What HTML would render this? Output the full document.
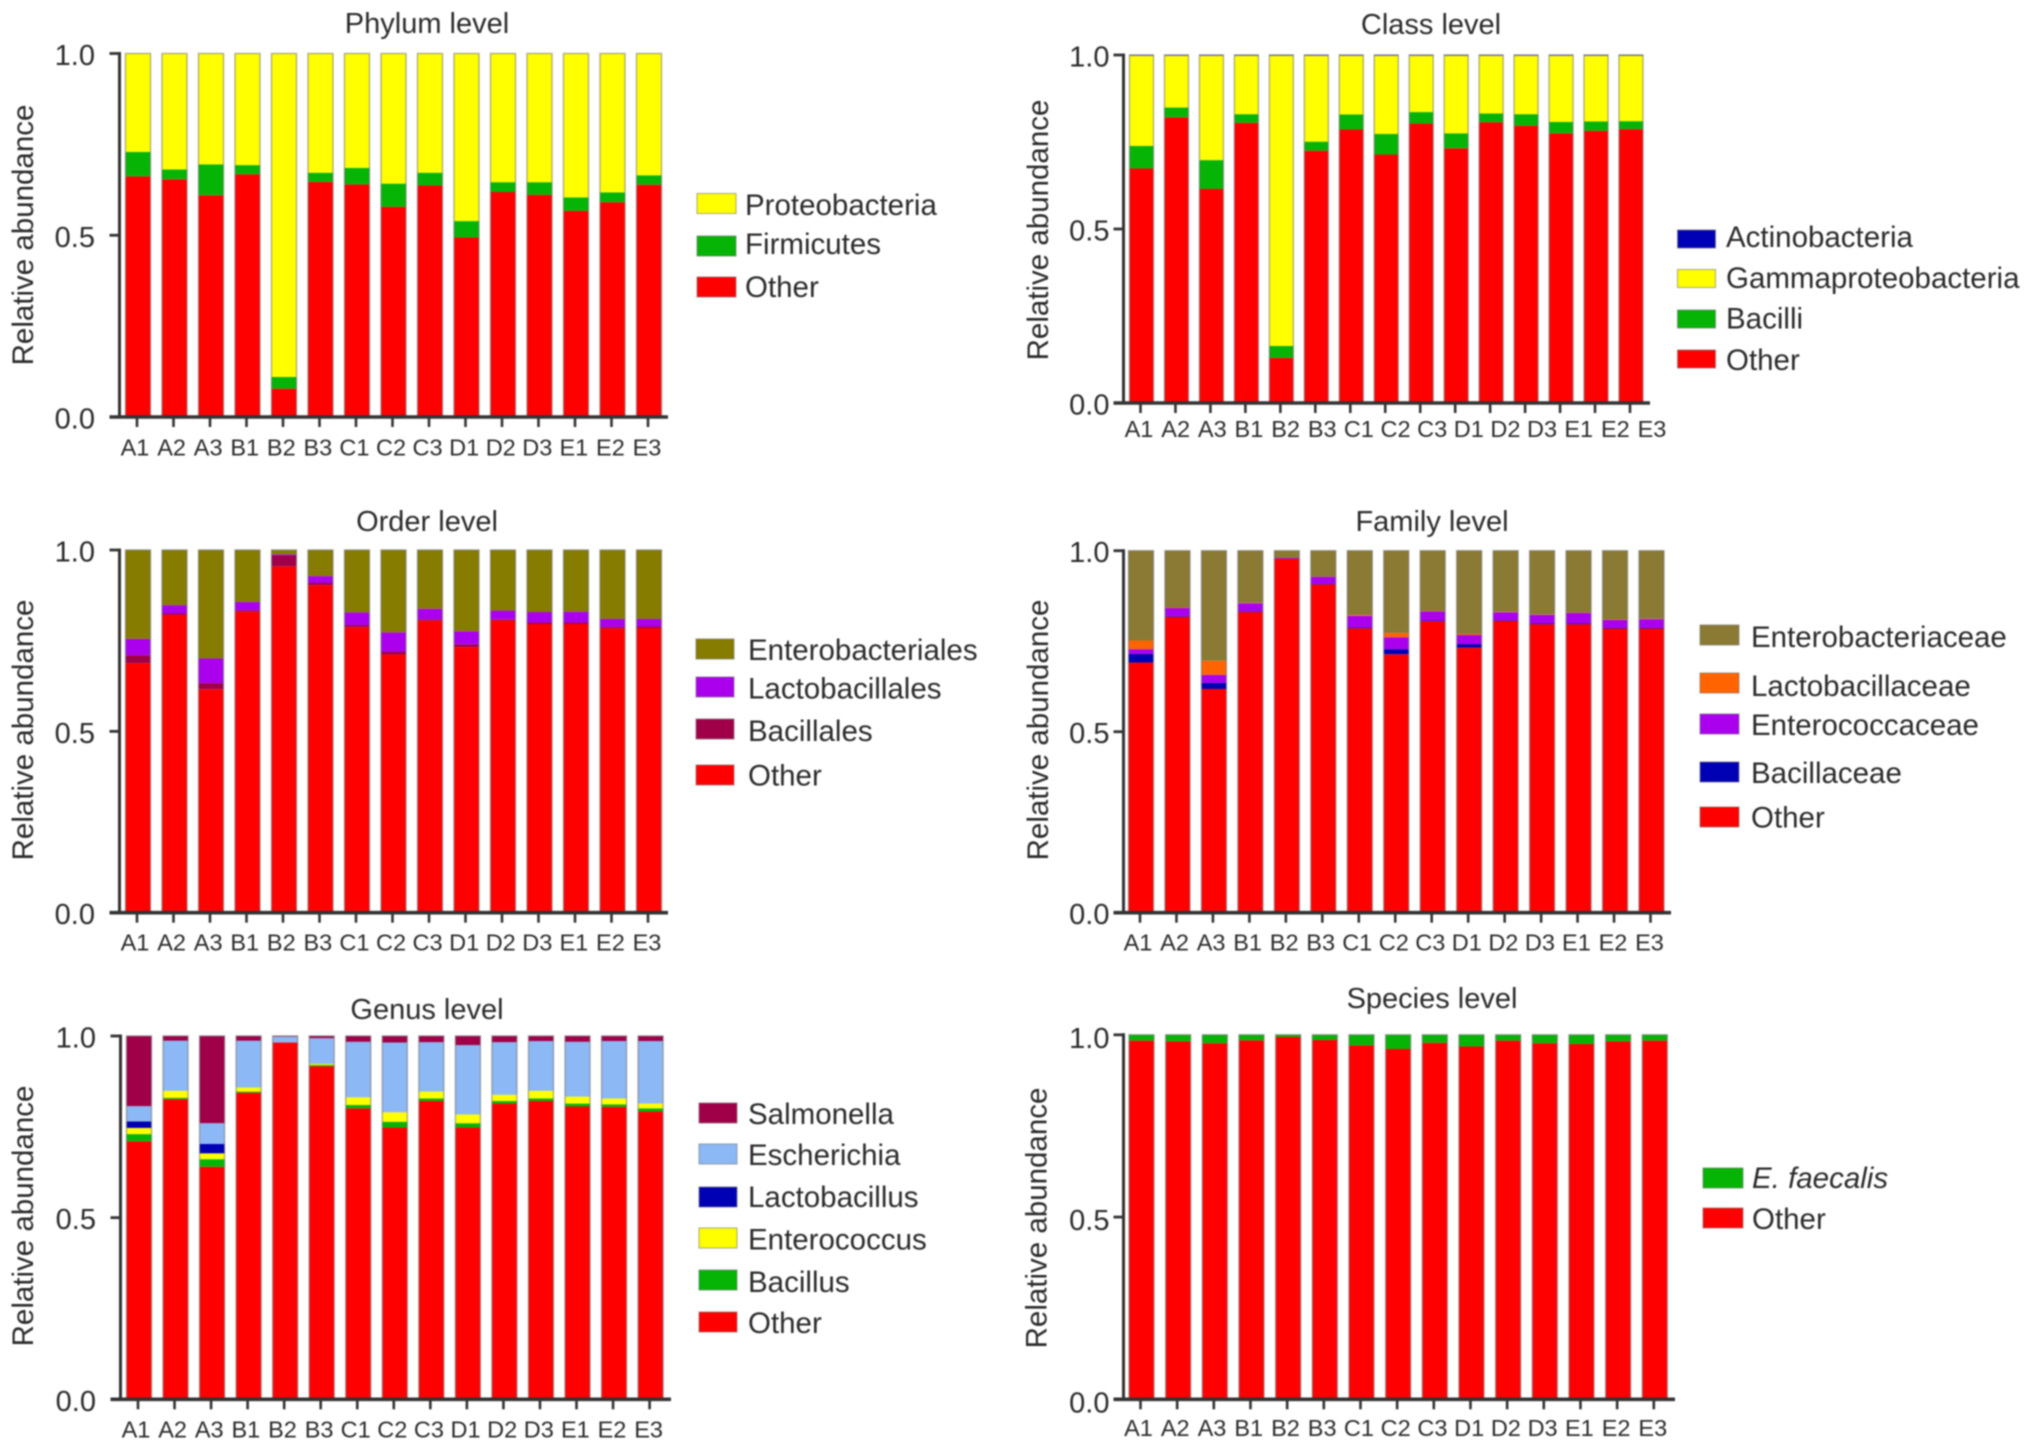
<!DOCTYPE html>
<html lang="en">
<head>
<meta charset="utf-8">
<title>Relative abundance by taxonomic level</title>
<style>
html,body{margin:0;padding:0;background:#fff;}
body{width:2032px;height:1451px;overflow:hidden;}
svg{display:block;filter:blur(0.75px);}
text{font-family:"Liberation Sans",sans-serif;fill:#2b2b2b;}
</style>
</head>
<body>
<svg id="figure" xmlns="http://www.w3.org/2000/svg" width="2032" height="1451" viewBox="0 0 2032 1451"></svg>
<script>
const categories = ['A1','A2','A3','B1','B2','B3','C1','C2','C3','D1','D2','D3','E1','E2','E3'];
const yTickValues = [0, 0.5, 1];
const yTickLabels = ['0.0', '0.5', '1.0'];
const yAxisTitle = 'Relative abundance';

const phylumTitle = 'Phylum level';
const phylumOther = [.662,.654,.61,.668,.078,.647,.64,.578,.637,.494,.619,.611,.567,.591,.639];
const phylumFirmicutes = [.067,.027,.085,.025,.032,.025,.045,.064,.035,.045,.027,.035,.037,.027,.026];
const phylumProteobacteria = [.271,.319,.305,.307,.89,.328,.315,.358,.328,.461,.354,.354,.396,.382,.335];

const classTitle = 'Class level';
const classOther = [.674,.821,.615,.805,.13,.725,.786,.714,.803,.732,.807,.797,.775,.782,.787];
const classBacilli = [.065,.028,.083,.025,.034,.026,.043,.059,.033,.043,.025,.033,.033,.027,.023];
const classGamma = [.259,.149,.3,.168,.834,.247,.169,.225,.162,.223,.166,.168,.19,.189,.188];
const classActino = [.002,.002,.002,.002,.002,.002,.002,.002,.002,.002,.002,.002,.002,.002,.002];

const orderTitle = 'Order level';
const orderOther = [.688,.821,.616,.83,.955,.903,.787,.712,.805,.732,.806,.796,.796,.784,.785];
const orderBacillales = [.022,.004,.017,.004,.03,.006,.006,.008,.004,.008,.003,.004,.004,.004,.004];
const orderLacto = [.045,.023,.068,.023,.003,.019,.035,.053,.029,.036,.024,.029,.03,.022,.021];
const orderEntero = [.245,.152,.299,.143,.012,.072,.172,.227,.162,.224,.167,.171,.17,.19,.19];

const familyTitle = 'Family level';
const familyOther = [.691,.817,.618,.831,.977,.907,.786,.714,.805,.732,.806,.797,.797,.785,.785];
const familyBacillaceae = [.024,.002,.017,.002,0,.002,.002,.014,.002,.01,.002,.002,.002,.002,.002];
const familyEnterococcaceae = [.013,.023,.022,.022,.003,.019,.032,.033,.025,.025,.022,.024,.029,.022,.024];
const familyLactobacillaceae = [.024,.001,.039,.001,0,0,.002,.012,.001,.003,.001,.001,.001,.001,.001];
const familyEnterobacteriaceae = [.248,.157,.304,.144,.02,.072,.178,.227,.167,.23,.169,.176,.171,.19,.188];

const genusTitle = 'Genus level';
const genusOther = [.71,.826,.64,.844,.982,.917,.801,.748,.821,.748,.814,.821,.806,.805,.792];
const genusBacillus = [.02,.004,.021,.003,0,.003,.009,.016,.007,.012,.007,.007,.008,.007,.009];
const genusEnterococcus = [.017,.019,.016,.011,0,.003,.021,.026,.019,.024,.017,.021,.019,.016,.013];
const genusLactobacillus = [.018,0,.026,0,0,0,0,0,0,0,0,0,0,0,0];
const genusEscherichia = [.042,.138,.057,.129,.016,.071,.153,.192,.136,.191,.145,.137,.151,.158,.172];
const genusSalmonella = [.193,.013,.24,.013,.002,.006,.016,.018,.017,.025,.017,.014,.016,.014,.014];

const speciesTitle = 'Species level';
const speciesOther = [.984,.982,.977,.985,.994,.986,.971,.961,.978,.968,.984,.977,.975,.982,.984];
const speciesFaecalis = [.016,.018,.023,.015,.006,.014,.029,.039,.022,.032,.016,.023,.025,.018,.016];

const RED = '#ff0000', GREEN = '#06b406', YELLOW = '#ffff00', BLUE = '#0000b4',
      OLIVE = '#857c00', PURPLE = '#aa00ee', MAROON = '#a00048', BROWN = '#8a7a33',
      ORANGE = '#ff6400', SKY = '#8cb8f5';

/* Panels: stacks are listed bottom to top; legend rows are listed top to bottom. */
const panels = [
  { key:'phylum', title:phylumTitle,
    stacks:[['other',phylumOther,RED],['firmicutes',phylumFirmicutes,GREEN],['proteobacteria',phylumProteobacteria,YELLOW]],
    legendNames:['Proteobacteria','Firmicutes','Other'], legendColors:[YELLOW,GREEN,RED],
    layout:{ axisX:119.5, axisEnd:668, first:138, last:649, barW:25, top:53.5, bottom:417, titleX:427, titleY:33, yTitleX:33, yTitleY:235,
             labelGap:24.5, labelDy:11.5, xLabelDy:38.5,
             swX:697, swW:39, swH:20, textX:745, swTops:[193.5,236,277], baselines:[215,254,297] } },
  { key:'class', title:classTitle,
    stacks:[['other',classOther,RED],['bacilli',classBacilli,GREEN],['gammaproteobacteria',classGamma,YELLOW],['actinobacteria',classActino,BLUE]],
    legendNames:['Actinobacteria','Gammaproteobacteria','Bacilli','Other'], legendColors:[BLUE,YELLOW,GREEN,RED],
    layout:{ axisX:1123.5, axisEnd:1650, first:1141.5, last:1631, barW:24, top:55, bottom:403, titleX:1431, titleY:34, yTitleX:1048, yTitleY:230,
             labelGap:14, labelDy:11.5, xLabelDy:34, labelFirst:1139, labelLast:1652,
             swX:1677.5, swW:38, swH:18, textX:1726, swTops:[230,269.5,310,350], baselines:[247,288,328.5,370] } },
  { key:'order', title:orderTitle,
    stacks:[['other',orderOther,RED],['bacillales',orderBacillales,MAROON],['lactobacillales',orderLacto,PURPLE],['enterobacteriales',orderEntero,OLIVE]],
    legendNames:['Enterobacteriales','Lactobacillales','Bacillales','Other'], legendColors:[OLIVE,PURPLE,MAROON,RED],
    layout:{ axisX:119.5, axisEnd:668, first:138, last:649, barW:25, top:550, bottom:912.7, titleX:427, titleY:531, yTitleX:33, yTitleY:730,
             labelGap:24.5, labelDy:11.5, xLabelDy:38,
             swX:696, swW:38, swH:20, textX:748, swTops:[639,677,719,765], baselines:[660,698.5,741,785.5] } },
  { key:'family', title:familyTitle,
    stacks:[['other',familyOther,RED],['bacillaceae',familyBacillaceae,BLUE],['enterococcaceae',familyEnterococcaceae,PURPLE],['lactobacillaceae',familyLactobacillaceae,ORANGE],['enterobacteriaceae',familyEnterobacteriaceae,BROWN]],
    legendNames:['Enterobacteriaceae','Lactobacillaceae','Enterococcaceae','Bacillaceae','Other'], legendColors:[BROWN,ORANGE,PURPLE,BLUE,RED],
    layout:{ axisX:1123.5, axisEnd:1671, first:1141, last:1651.5, barW:25, top:550.7, bottom:912.7, titleX:1432, titleY:531, yTitleX:1048, yTitleY:730,
             labelGap:14, labelDy:11.5, xLabelDy:38,
             swX:1700, swW:39, swH:20, textX:1751, swTops:[625,673,714,762,807], baselines:[647,696,735,783,827.5] } },
  { key:'genus', title:genusTitle,
    stacks:[['other',genusOther,RED],['bacillus',genusBacillus,GREEN],['enterococcus',genusEnterococcus,YELLOW],['lactobacillus',genusLactobacillus,BLUE],['escherichia',genusEscherichia,SKY],['salmonella',genusSalmonella,MAROON]],
    legendNames:['Salmonella','Escherichia','Lactobacillus','Enterococcus','Bacillus','Other'], legendColors:[MAROON,SKY,BLUE,YELLOW,GREEN,RED],
    layout:{ axisX:120.5, axisEnd:671, first:139, last:650.6, barW:25, top:1036, bottom:1399.3, titleX:427, titleY:1019, yTitleX:33, yTitleY:1216,
             labelGap:24.5, labelDy:11.5, xLabelDy:38,
             swX:699, swW:38, swH:20, textX:748, swTops:[1103,1144,1187,1228,1270,1312], baselines:[1124,1165,1207,1249.5,1292,1333] } },
  { key:'species', title:speciesTitle,
    stacks:[['other',speciesOther,RED],['e-faecalis',speciesFaecalis,GREEN]],
    legendNames:['E. faecalis','Other'], legendColors:[GREEN,RED], legendItalic:[true,false],
    layout:{ axisX:1123.5, axisEnd:1675, first:1141.5, last:1654.8, barW:25, top:1034.8, bottom:1399.3, titleX:1432, titleY:1008, yTitleX:1046.5, yTitleY:1218,
             labelGap:14, labelDy:13, xLabelDy:36.5,
             swX:1703, swW:40, swH:20, textX:1752, swTops:[1168,1208], baselines:[1188,1229] } }
];

const NS = 'http://www.w3.org/2000/svg';
const figure = document.getElementById('figure');

function make(tag, attrs, parent) {
  const el = document.createElementNS(NS, tag);
  for (const k in attrs) el.setAttribute(k, attrs[k]);
  parent.appendChild(el);
  return el;
}

panels.forEach(function (panel) {
  const L = panel.layout;
  const xScale = function (i) { return L.first + (L.last - L.first) * i / (categories.length - 1); };
  const yScale = function (v) { return L.bottom - (L.bottom - L.top) * v; };
  const labelFirst = L.labelFirst !== undefined ? L.labelFirst : L.first - 3;
  const labelLast = L.labelLast !== undefined ? L.labelLast : L.last - 2;
  const labelX = function (i) { return labelFirst + (labelLast - labelFirst) * i / (categories.length - 1); };

  const group = make('g', {}, figure);
  
  

  const title = make('text', { x:L.titleX, y:L.titleY, 'text-anchor':'middle', 'font-size':29 }, group);
  title.textContent = panel.title;
  
  

  categories.forEach(function (cat, i) {
    let cumulative = 0;
    const cx = xScale(i);
    panel.stacks.forEach(function (stack) {
      const value = stack[1][i];
      if (value <= 0) return;
      const y0 = yScale(cumulative);
      const y1 = yScale(cumulative + value);
      cumulative += value;
      const seg = make('rect', { x:cx - L.barW / 2, y:y1, width:L.barW, height:y0 - y1, fill:stack[2] }, group);
      
      
    });
    const outline = make('rect', { x:cx - L.barW / 2, y:yScale(cumulative), width:L.barW, height:yScale(0) - yScale(cumulative), fill:'none', stroke:'rgba(105,105,105,0.5)', 'stroke-width':1.5 }, group);
    
    

    const tick = make('line', { x1:cx - 1, x2:cx - 1, y1:L.bottom, y2:L.bottom + 10, stroke:'#333', 'stroke-width':2.6 }, group);
    
    

    const label = make('text', { x:labelX(i), y:L.bottom + L.xLabelDy, 'text-anchor':'middle', 'font-size':23.5 }, group);
    label.textContent = cat;
    
    
  });

  yTickValues.forEach(function (v, i) {
    const tick = make('line', { x1:L.axisX - 10, x2:L.axisX, y1:yScale(v), y2:yScale(v), stroke:'#333', 'stroke-width':2.8 }, group);
    
    

    const label = make('text', { x:L.axisX - L.labelGap, y:yScale(v) + L.labelDy, 'text-anchor':'end', 'font-size':29 }, group);
    label.textContent = yTickLabels[i];
    
    
  });

  const yAxis = make('line', { x1:L.axisX, x2:L.axisX, y1:L.top - 1.5, y2:L.bottom + 1, stroke:'#333', 'stroke-width':3 }, group);
  
  

  const xAxis = make('line', { x1:L.axisX - 10, x2:L.axisEnd, y1:L.bottom, y2:L.bottom, stroke:'#333', 'stroke-width':3.6 }, group);
  
  

  const yTitle = make('text', { x:0, y:0, 'text-anchor':'middle', 'font-size':29.5, transform:'translate(' + L.yTitleX + ',' + L.yTitleY + ') rotate(-90)' }, group);
  yTitle.textContent = yAxisTitle;
  
  

  panel.legendNames.forEach(function (name, i) {
    const swatch = make('rect', { x:L.swX, y:L.swTops[i], width:L.swW, height:L.swH, fill:panel.legendColors[i], stroke:'rgba(105,105,105,0.5)', 'stroke-width':1.2 }, group);
    
    

    const text = make('text', { x:L.textX, y:L.baselines[i], 'font-size':29.5 }, group);
    if (panel.legendItalic && panel.legendItalic[i]) text.setAttribute('font-style', 'italic');
    text.textContent = name;
    
    
  });
});
</script>
</body>
</html>
